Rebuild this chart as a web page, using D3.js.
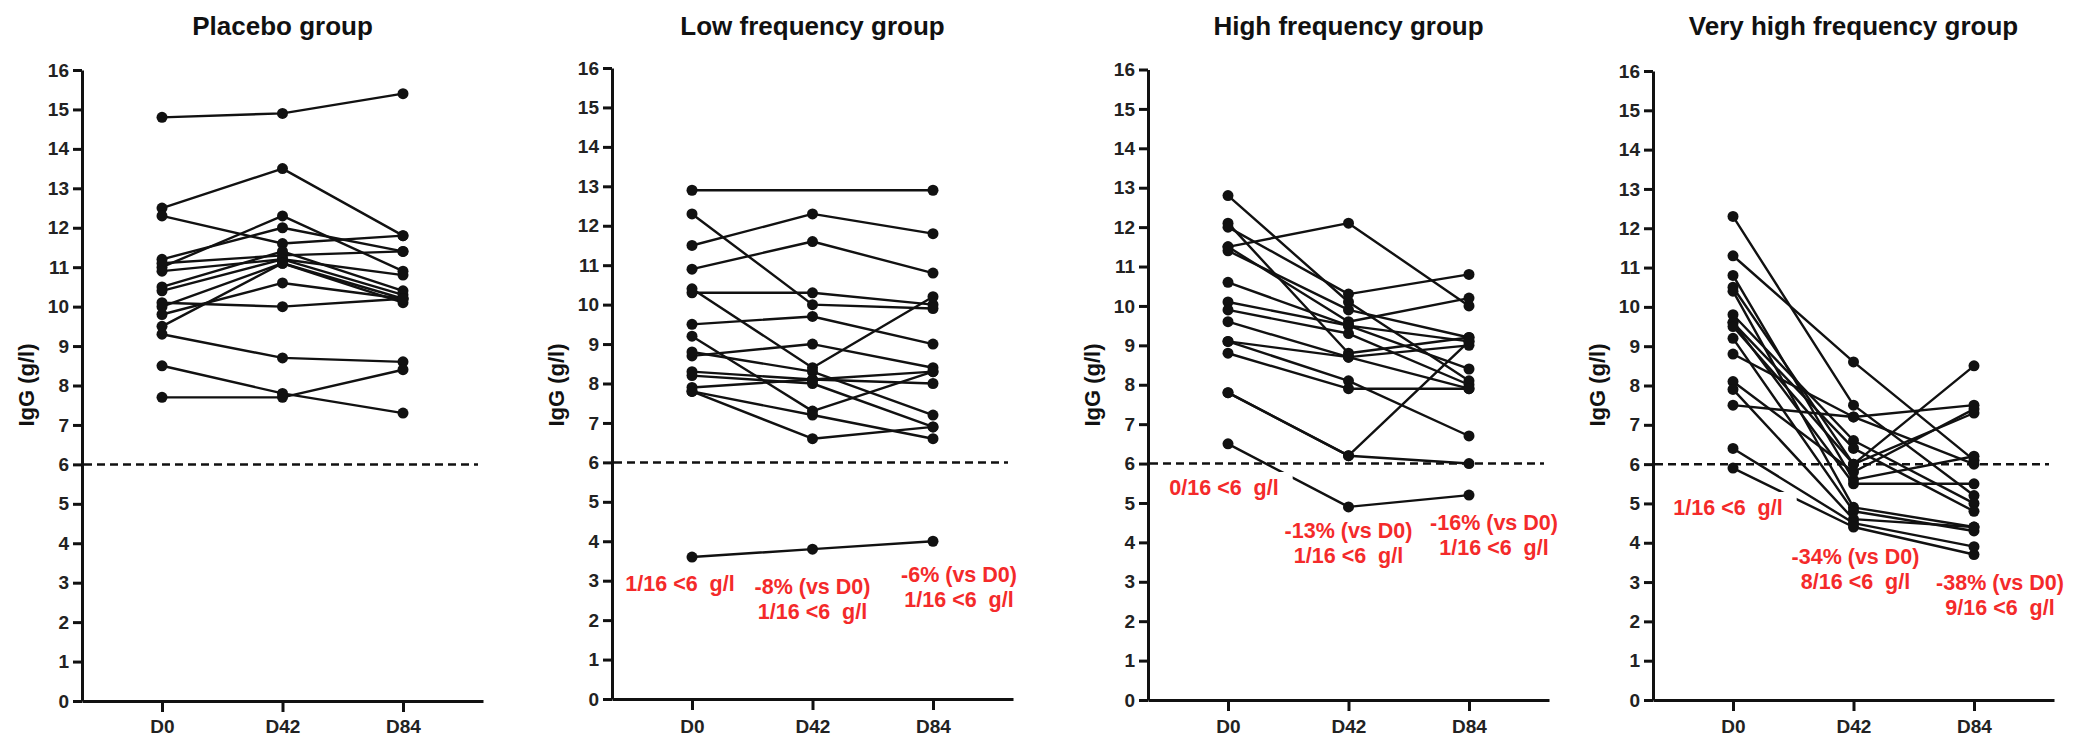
<!DOCTYPE html>
<html><head><meta charset="utf-8">
<script src="https://cdn.jsdelivr.net/npm/d3@7/dist/d3.min.js"></script>
<style>
body{margin:0;background:#fff}
svg{display:block}
text{font-family:"Liberation Sans",Arial,Helvetica,sans-serif}
.note{white-space:pre}
</style>
</head><body>
<svg id="chart" width="2073" height="737"></svg>
<script>
// ---------- data ----------
const timepoints = ["D0", "D42", "D84"];
const yTickValues = [0,1,2,3,4,5,6,7,8,9,10,11,12,13,14,15,16];
const threshold = 6;
const groupTitles = ["Placebo group", "Low frequency group", "High frequency group", "Very high frequency group"];
const yAxisLabel = "IgG (g/l)";

const placeboD0  = [14.8, 12.5, 12.3, 11.0, 11.2, 11.1, 10.9, 10.5, 10.4, 10.0, 9.8, 9.5, 10.1, 9.3, 8.5, 7.7];
const placeboD42 = [14.9, 13.5, 11.6, 12.3, 12.0, 11.3, 11.2, 11.4, 11.2, 11.1, 10.6, 11.1, 10.0, 8.7, 7.8, 7.7];
const placeboD84 = [15.4, 11.8, 11.8, 10.9, 11.4, 11.4, 10.8, 10.4, 10.3, 10.1, 10.2, 10.2, 10.2, 8.6, 7.3, 8.4];

const lowD0  = [12.9, 12.3, 11.5, 10.9, 10.3, 10.4, 9.5, 8.7, 9.2, 8.8, 8.3, 8.2, 7.9, 7.8, 7.8, 3.6];
const lowD42 = [null, 10.0, 12.3, 11.6, 10.3, 8.4, 9.7, 9.0, 7.3, 8.3, 8.1, 8.0, 8.1, 7.2, 6.6, 3.8];
const lowD84 = [12.9, 9.9, 11.8, 10.8, 10.0, 10.2, 9.0, 8.4, 8.3, 7.2, 8.3, 6.9, 8.0, 6.6, 6.9, 4.0];

const highD0  = [12.8, 12.1, 11.5, 12.0, 11.4, 11.5, 10.6, 10.1, 9.9, 9.6, 9.1, 9.1, 8.8, 7.8, 7.8, 6.5];
const highD42 = [10.1, 8.8, 12.1, 10.3, 9.9, 9.6, 9.5, 9.5, 9.3, 8.7, 8.7, 8.1, 7.9, 6.2, 6.2, 4.9];
const highD84 = [8.1, 9.2, 10.0, 10.8, 9.2, 10.2, 8.4, 9.1, 8.0, 9.0, 7.9, 6.7, 7.9, 9.1, 6.0, 5.2];

const vhighD0  = [12.3, 11.3, 10.8, 10.5, 10.4, 9.8, 9.6, 9.6, 9.5, 9.2, 8.8, 8.1, 7.9, 7.5, 6.4, 5.9];
const vhighD42 = [7.5, 8.6, 5.6, 6.0, 4.9, 6.6, 5.5, 6.4, 6.0, 4.8, 7.2, 5.8, 4.6, 7.2, 4.5, 4.4];
const vhighD84 = [5.2, 6.1, 6.2, 7.3, 4.4, 5.0, 5.5, 4.8, 8.5, 4.3, 6.0, 7.4, 4.4, 7.5, 3.9, 3.7];

// annotation texts per group: [D0, D42, D84]
const placeboNotes = [null, null, null];
const lowNotes   = [["1/16 <6  g/l"], ["-8% (vs D0)", "1/16 <6  g/l"], ["-6% (vs D0)", "1/16 <6  g/l"]];
const highNotes  = [["0/16 <6  g/l"], ["-13% (vs D0)", "1/16 <6  g/l"], ["-16% (vs D0)", "1/16 <6  g/l"]];
const vhighNotes = [["1/16 <6  g/l"], ["-34% (vs D0)", "8/16 <6  g/l"], ["-38% (vs D0)", "9/16 <6  g/l"]];

// ---------- layout ----------
const groups = [
  {title: groupTitles[0], d: [placeboD0, placeboD42, placeboD84], notes: placeboNotes,
   left: 82, top: 70, bottom: 701, noteX: [0,0,0], noteY: [0,0,0]},
  {title: groupTitles[1], d: [lowD0, lowD42, lowD84], notes: lowNotes,
   left: 612, top: 68, bottom: 699, noteX: [-12, 0, 26], noteY: [583, 586, 574]},
  {title: groupTitles[2], d: [highD0, highD42, highD84], notes: highNotes,
   left: 1148, top: 69.5, bottom: 700, noteX: [-4, 0, 25], noteY: [487, 530, 522]},
  {title: groupTitles[3], d: [vhighD0, vhighD42, vhighD84], notes: vhighNotes,
   left: 1653, top: 71, bottom: 700, noteX: [-5, 2, 26], noteY: [507, 556, 582]}
];
const axisLen = 401;
const ink = "#111";
const red = "#f42a2a";

const svg = d3.select("#chart");

groups.forEach((g, gi) => {
  const x = d3.scalePoint().domain(timepoints).range([g.left, g.left + axisLen]).padding(0.664);
  const y = d3.scaleLinear().domain([0, 16]).range([g.bottom, g.top]);
  const G = svg.append("g");

  // title
  G.append("text").attr("x", x("D42")).attr("y", 35)
    .attr("text-anchor", "middle").attr("font-size", 26).attr("font-weight", "bold")
    .attr("fill", ink).text(g.title);

  // y axis
  const ya = G.append("g").attr("transform", `translate(${g.left},0)`)
    .call(d3.axisLeft(y).tickValues(yTickValues).tickFormat(d3.format("d")).tickSize(9).tickSizeOuter(0).tickPadding(4));
  ya.select(".domain").attr("stroke", ink).attr("stroke-width", 3);
  ya.selectAll(".tick line").attr("stroke", ink).attr("stroke-width", 3);
  ya.selectAll(".tick text").attr("font-size", 19).attr("font-weight", "bold").attr("fill", "#222")
    .attr("font-family", "'Liberation Sans', Arial, sans-serif");

  // x axis (labels placed so they stay inside the 737px frame)
  const labelPad = 733 - g.bottom - 11 - 13.5;
  const xa = G.append("g").attr("transform", `translate(0,${g.bottom})`)
    .call(d3.axisBottom(x).tickSize(11).tickSizeOuter(0).tickPadding(labelPad));
  xa.select(".domain").attr("stroke", ink).attr("stroke-width", 3);
  xa.selectAll(".tick line").attr("stroke", ink).attr("stroke-width", 3);
  xa.selectAll(".tick text").attr("font-size", 19).attr("font-weight", "bold").attr("fill", "#222")
    .attr("font-family", "'Liberation Sans', Arial, sans-serif");

  // y label
  G.append("text").attr("transform", `translate(${g.left - 56},${385}) rotate(-90)`)
    .attr("text-anchor", "middle").attr("dominant-baseline", "central")
    .attr("font-size", 22).attr("font-weight", "bold").attr("fill", ink).text(yAxisLabel);

  // dashed threshold
  G.append("line").attr("x1", g.left + 2).attr("x2", g.left + axisLen - 5)
    .attr("y1", y(threshold)).attr("y2", y(threshold))
    .attr("stroke", ink).attr("stroke-width", 2.5).attr("stroke-dasharray", "8,5");

  // subjects
  const n = g.d[0].length;
  const subjects = d3.range(n).map(i => timepoints.map((t, k) => ({t, v: g.d[k][i]})).filter(p => p.v != null));
  const line = d3.line().x(p => x(p.t)).y(p => y(p.v));
  G.append("g").selectAll("path").data(subjects).join("path")
    .attr("d", line).attr("fill", "none").attr("stroke", ink).attr("stroke-width", 2.4)
    .attr("stroke-linejoin", "round");
  G.append("g").selectAll("circle").data(subjects.flat()).join("circle")
    .attr("cx", p => x(p.t)).attr("cy", p => y(p.v)).attr("r", 5.5).attr("fill", ink);

  // annotations
  g.notes.forEach((lines, k) => {
    if (!lines) return;
    const cx = x(timepoints[k]) + g.noteX[k];
    const cy = g.noteY[k];
    const ng = G.append("g");
    const bg = ng.append("rect").attr("fill", "#fff");
    const t = ng.append("text").attr("class", "note").attr("text-anchor", "middle")
      .attr("font-size", 21.5).attr("font-weight", "bold").attr("fill", red);
    lines.forEach((s, j) => {
      t.append("tspan").attr("x", cx).attr("y", cy + j * 25).attr("dy", "0.36em").text(s);
    });
    if (k === 0) {
      const b = t.node().getBBox();
      bg.attr("x", b.x - 4).attr("y", cy - 15).attr("width", b.width + 18).attr("height", 30);
    } else {
      bg.remove();
    }
  });
});
</script>
</body></html>
